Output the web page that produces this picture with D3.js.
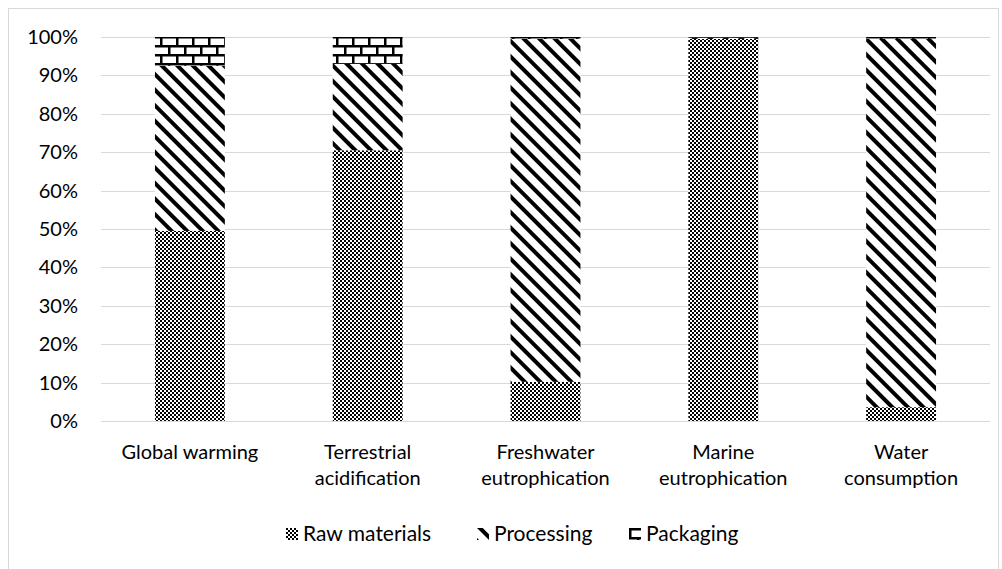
<!DOCTYPE html>
<html>
<head>
<meta charset="utf-8">
<script src="https://cdn.jsdelivr.net/npm/d3@7"></script>
<style>
  html, body { margin: 0; padding: 0; background: #fff; }
  svg { display: block; }
  text { font-family: Lato, "Open Sans", sans-serif; fill: #000; }
</style>
</head>
<body>
<svg id="chart" width="1002" height="569"></svg>
<script>
// Impact categories (label lines) and contribution shares per life-cycle stage
const categories = [
  ["Global warming"],
  ["Terrestrial", "acidification"],
  ["Freshwater", "eutrophication"],
  ["Marine", "eutrophication"],
  ["Water", "consumption"]
];
const rawMaterials = [0.495, 0.705, 0.102, 0.995, 0.036];
const processing   = [0.430, 0.225, 0.893, 0.003, 0.959];
const packaging    = [0.075, 0.070, 0.005, 0.002, 0.005];
const seriesNames  = ["Raw materials", "Processing", "Packaging"];
const yTicks       = [0, 0.1, 0.2, 0.3, 0.4, 0.5, 0.6, 0.7, 0.8, 0.9, 1.0];

const svg = d3.select("#chart");
const W = 1002, H = 569;
const margin = { left: 101, right: 12, top: 37, bottom: 148 };

// outer chart frame
svg.append("rect")
  .attr("x", 8.5).attr("y", 8.5)
  .attr("width", 990).attr("height", 580)
  .attr("fill", "none").attr("stroke", "#d9d9d9").attr("stroke-width", 1);

// fill patterns for the three stages
const defs = svg.append("defs");

// Raw materials: fine checker
const pRaw = defs.append("pattern").attr("id", "pat-raw")
  .attr("patternUnits", "userSpaceOnUse").attr("width", 4).attr("height", 4);
pRaw.append("rect").attr("width", 4).attr("height", 4).attr("fill", "#fff");
pRaw.append("rect").attr("x", 0).attr("y", 0).attr("width", 2).attr("height", 2).attr("fill", "#000");
pRaw.append("rect").attr("x", 2).attr("y", 2).attr("width", 2).attr("height", 2).attr("fill", "#000");

// Processing: wide downward diagonal stripes
const pProc = defs.append("pattern").attr("id", "pat-proc")
  .attr("patternUnits", "userSpaceOnUse").attr("width", 11).attr("height", 11)
  .attr("patternTransform", "rotate(-45)");
pProc.append("rect").attr("width", 11).attr("height", 11).attr("fill", "#fff");
pProc.append("rect").attr("x", 0).attr("y", 0).attr("width", 4).attr("height", 11).attr("fill", "#000");

// Packaging: brick pattern
const pPack = defs.append("pattern").attr("id", "pat-pack")
  .attr("patternUnits", "userSpaceOnUse").attr("width", 16).attr("height", 18);
pPack.append("rect").attr("width", 16).attr("height", 18).attr("fill", "#fff");
pPack.append("rect").attr("x", 0).attr("y", 0).attr("width", 16).attr("height", 2.5).attr("fill", "#000");
pPack.append("rect").attr("x", 0).attr("y", 9).attr("width", 16).attr("height", 2.5).attr("fill", "#000");
pPack.append("rect").attr("x", 0).attr("y", 0).attr("width", 2.5).attr("height", 9).attr("fill", "#000");
pPack.append("rect").attr("x", 8).attr("y", 9).attr("width", 2.5).attr("height", 9).attr("fill", "#000");

const fills = ["url(#pat-raw)", "url(#pat-proc)", "url(#pat-pack)"];

const x = d3.scaleBand()
  .domain(d3.range(categories.length))
  .range([margin.left, W - margin.right])
  .paddingInner(0.607).paddingOuter(0.3035);

const y = d3.scaleLinear().domain([0, 1]).range([H - margin.bottom, margin.top]);

// horizontal gridlines
svg.append("g").selectAll("line").data(yTicks).join("line")
  .attr("x1", margin.left).attr("x2", W - margin.right)
  .attr("y1", d => Math.round(y(d)) + 0.5).attr("y2", d => Math.round(y(d)) + 0.5)
  .attr("stroke", "#d9d9d9").attr("stroke-width", 1);

// y axis labels
const yAxis = d3.axisLeft(y).tickValues(yTicks).tickFormat(d3.format(".0%")).tickSize(0).tickPadding(23);
const gy = svg.append("g").attr("transform", `translate(${margin.left},0)`).call(yAxis);
gy.select(".domain").remove();
gy.selectAll("text").style("font-size", "20px").attr("fill", "#000");

// stacked bars
const table = categories.map((c, i) => ({ i, raw: rawMaterials[i], proc: processing[i], pack: packaging[i] }));
const stack = d3.stack().keys(["raw", "proc", "pack"])(table);
svg.append("g").selectAll("g").data(stack).join("g")
  .attr("fill", (d, k) => fills[k])
  .selectAll("rect").data(d => d).join("rect")
  .attr("x", d => x(d.data.i))
  .attr("width", x.bandwidth())
  .attr("y", d => y(d[1]))
  .attr("height", d => y(d[0]) - y(d[1]));

// baseline
svg.append("line")
  .attr("x1", margin.left).attr("x2", W - margin.right)
  .attr("y1", Math.round(y(0)) + 0.5).attr("y2", Math.round(y(0)) + 0.5)
  .attr("stroke", "#d9d9d9");

// category labels
const cx = d3.scalePoint().domain(d3.range(categories.length))
  .range([x(0) + x.bandwidth() / 2, x(4) + x.bandwidth() / 2]);
const lab = svg.append("g").selectAll("text").data(categories).join("text")
  .attr("text-anchor", "middle")
  .attr("x", (d, i) => cx(i))
  .attr("y", y(0) + 38)
  .style("font-size", "20px");
lab.selectAll("tspan").data(d => d).join("tspan")
  .attr("x", function () { return this.parentNode.getAttribute("x"); })
  .attr("dy", (d, j) => j === 0 ? 0 : 26)
  .text(d => d);

// legend
const legendX = [286, 477, 629];
const lg = svg.append("g").selectAll("g").data(seriesNames).join("g")
  .attr("transform", (d, k) => `translate(${legendX[k]},528)`);
lg.append("rect").attr("width", 12).attr("height", 12).attr("y", 0)
  .attr("fill", (d, k) => fills[k]);
lg.append("text").attr("x", 17).attr("y", 13).style("font-size", "21px").text(d => d);
</script>
</body>
</html>
